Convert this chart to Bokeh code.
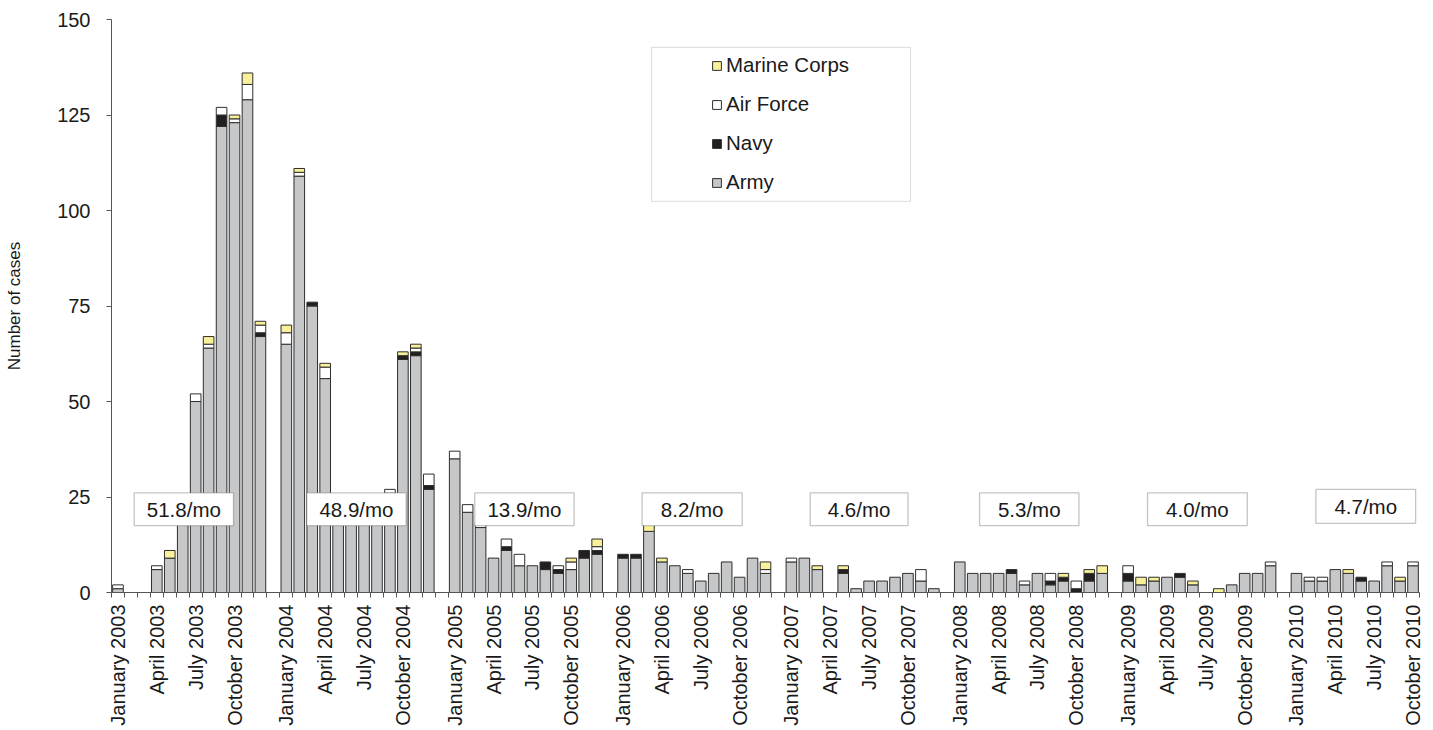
import math
import numpy as np
from bokeh.plotting import figure
from bokeh.models import (ColumnDataSource, Range1d, FixedTicker, BoxAnnotation,
                          Label, Legend, LegendItem)
from bokeh.embed import file_html
from bokeh.resources import INLINE

# ---------------- data (monthly cases, Jan 2003 .. Oct 2010) ----------------
years = [2003, 2004, 2005, 2006, 2007, 2008, 2009, 2010]
month_names = ["January", "February", "March", "April", "May", "June", "July",
               "August", "September", "October", "November", "December"]

army = [
    1, 0, 0, 6, 9, 24, 50, 64, 122, 123, 129, 67,      # 2003
    65, 109, 75, 56, 20, 22, 21, 21, 26, 61, 62, 27,   # 2004
    35, 21, 17, 9, 11, 7, 7, 6, 5, 6, 9, 10,           # 2005
    9, 9, 16, 8, 7, 5, 3, 5, 8, 4, 9, 5,               # 2006
    8, 9, 6, 0, 5, 1, 3, 3, 4, 5, 3, 1,                # 2007
    8, 5, 5, 5, 5, 2, 5, 2, 3, 0, 3, 5,                # 2008
    3, 2, 3, 4, 4, 2, 0, 0, 2, 5, 5, 7,                # 2009
    5, 3, 3, 6, 5, 3, 3, 7, 3, 7,                      # 2010
]
navy = [
    0, 0, 0, 0, 0, 0, 0, 0, 3, 0, 0, 1,
    0, 0, 1, 0, 0, 0, 0, 0, 0, 1, 1, 1,
    0, 0, 0, 0, 1, 0, 0, 2, 1, 0, 2, 1,
    1, 1, 0, 0, 0, 0, 0, 0, 0, 0, 0, 0,
    0, 0, 0, 0, 1, 0, 0, 0, 0, 0, 0, 0,
    0, 0, 0, 0, 1, 0, 0, 1, 1, 1, 2, 0,
    2, 0, 0, 0, 1, 0, 0, 0, 0, 0, 0, 0,
    0, 0, 0, 0, 0, 1, 0, 0, 0, 0,
]
air_force = [
    1, 0, 0, 1, 0, 0, 2, 1, 2, 1, 4, 2,
    3, 1, 0, 3, 0, 0, 0, 0, 1, 0, 1, 3,
    2, 2, 1, 0, 2, 3, 0, 0, 1, 2, 0, 1,
    0, 0, 0, 0, 0, 1, 0, 0, 0, 0, 0, 1,
    1, 0, 0, 0, 0, 0, 0, 0, 0, 0, 3, 0,
    0, 0, 0, 0, 0, 1, 0, 2, 0, 2, 0, 0,
    2, 0, 0, 0, 0, 0, 0, 0, 0, 0, 0, 1,
    0, 1, 1, 0, 0, 0, 0, 1, 0, 1,
]
marine_corps = [
    0, 0, 0, 0, 2, 0, 0, 2, 0, 1, 3, 1,
    2, 1, 0, 1, 0, 0, 0, 0, 0, 1, 1, 0,
    0, 0, 0, 0, 0, 0, 0, 0, 0, 1, 0, 2,
    0, 0, 3, 1, 0, 0, 0, 0, 0, 0, 0, 2,
    0, 0, 1, 0, 1, 0, 0, 0, 0, 0, 0, 0,
    0, 0, 0, 0, 0, 0, 0, 0, 1, 0, 1, 2,
    0, 2, 1, 0, 0, 1, 0, 1, 0, 0, 0, 0,
    0, 0, 0, 0, 1, 0, 0, 0, 1, 0,
]
rate_labels = ["51.8/mo", "48.9/mo", "13.9/mo", "8.2/mo",
               "4.6/mo", "5.3/mo", "4.0/mo", "4.7/mo"]

# ---------------- layout constants ----------------
SLOTS_PER_YEAR = 13          # 12 months + one empty gap slot
n = len(army)
slot = np.array([(i // 12) * SLOTS_PER_YEAR + (i % 12) for i in range(n)], dtype=float)
n_slots = int(slot[-1]) + 1

FONT = "Liberation Sans"
TXT = "#1a1a1a"
AXC = "#555555"

p = figure(width=1433, height=730, output_backend="svg", toolbar_location=None,
           x_range=Range1d(-0.5, n_slots - 0.5), y_range=Range1d(0, 150),
           min_border_left=111, min_border_right=14, min_border_top=19,
           min_border_bottom=138)
p.outline_line_color = None
p.xgrid.visible = False
p.ygrid.visible = False
p.background_fill_color = "white"
p.border_fill_color = "white"

series = [
    ("Army", army, "#c6c7c9"),
    ("Navy", navy, "#231f20"),
    ("Air Force", air_force, "#ffffff"),
    ("Marine Corps", marine_corps, "#f8f09a"),
]

renderers = {}
base = np.zeros(n)
for name, vals, col in series:
    v = np.array(vals, dtype=float)
    mask = v > 0
    src = ColumnDataSource(dict(x=slot[mask], bottom=base[mask], top=(base + v)[mask]))
    r = p.vbar(x="x", bottom="bottom", top="top", width=0.82, source=src,
               fill_color=col, line_color="#2e2e2e", line_width=1)
    renderers[name] = r
    base = base + v

# ---------------- axes ----------------
yax = p.yaxis[0]
yax.ticker = FixedTicker(ticks=[0, 25, 50, 75, 100, 125, 150])
yax.axis_line_color = AXC
yax.major_tick_line_color = AXC
yax.major_tick_out = 5
yax.major_tick_in = 0
yax.minor_tick_line_color = None
yax.major_label_text_font = FONT
yax.major_label_text_font_size = "20px"
yax.major_label_text_color = TXT
yax.major_label_standoff = 16
yax.axis_label = "Number of cases"
yax.axis_label_text_font = FONT
yax.axis_label_text_font_size = "17px"
yax.axis_label_text_font_style = "normal"
yax.axis_label_text_color = TXT
yax.axis_label_standoff = 30

label_ticks = []
overrides = {}
for i in range(n):
    if i % 3 == 0:
        t = float(slot[i])
        label_ticks.append(t)
        overrides[t] = f"{month_names[i % 12]} {years[i // 12]}"
boundaries = [s - 0.5 for s in range(n_slots + 1)]

xax = p.xaxis[0]
xax.ticker = FixedTicker(ticks=label_ticks, minor_ticks=boundaries)
xax.major_label_overrides = overrides
xax.major_label_orientation = math.pi / 2
xax.major_tick_out = 0
xax.major_tick_in = 0
xax.minor_tick_out = 5
xax.minor_tick_in = 0
xax.minor_tick_line_color = AXC
xax.axis_line_color = AXC
xax.major_label_text_font = FONT
xax.major_label_text_font_size = "20px"
xax.major_label_text_color = TXT
xax.major_label_standoff = 7

# ---------------- rate boxes ----------------
box_left = [1.25, 14.58, 27.55, 40.47, 53.45, 66.53, 79.5, 92.5]
box_right = [8.92, 22.25, 35.22, 48.2, 61.0, 74.2, 87.2, 100.2]
box_bottom = [17.5] * 7 + [18.1]
box_top = [26.1] * 7 + [27.0]
for txt, l, r_, b, t in zip(rate_labels, box_left, box_right, box_bottom, box_top):
    p.add_layout(BoxAnnotation(left=l, right=r_, bottom=b, top=t,
                               fill_color="white", fill_alpha=1,
                               line_color="#3a3a3a", line_width=1.3))
    p.add_layout(Label(x=(l + r_) / 2, y=(b + t) / 2, text=txt,
                       text_align="center", text_baseline="middle",
                       text_font=FONT, text_font_size="20.5px", text_color=TXT))

# ---------------- legend ----------------
p.add_layout(BoxAnnotation(left=41.2, right=61.2, bottom=102.4, top=142.7,
                           fill_color="white", fill_alpha=1,
                           line_color="#8a8a8a", line_width=1))
legend = Legend(items=[LegendItem(label=nm, renderers=[renderers[nm]])
                       for nm in ["Marine Corps", "Air Force", "Navy", "Army"]],
                location=(600, 395), orientation="vertical",
                padding=0, margin=0, spacing=9, label_height=30,
                glyph_width=11, glyph_height=11, label_standoff=4,
                label_text_font=FONT, label_text_font_size="20.5px",
                label_text_color=TXT, border_line_alpha=0,
                background_fill_alpha=0)
p.add_layout(legend)

open("out.html", "w").write(file_html(p, INLINE))
